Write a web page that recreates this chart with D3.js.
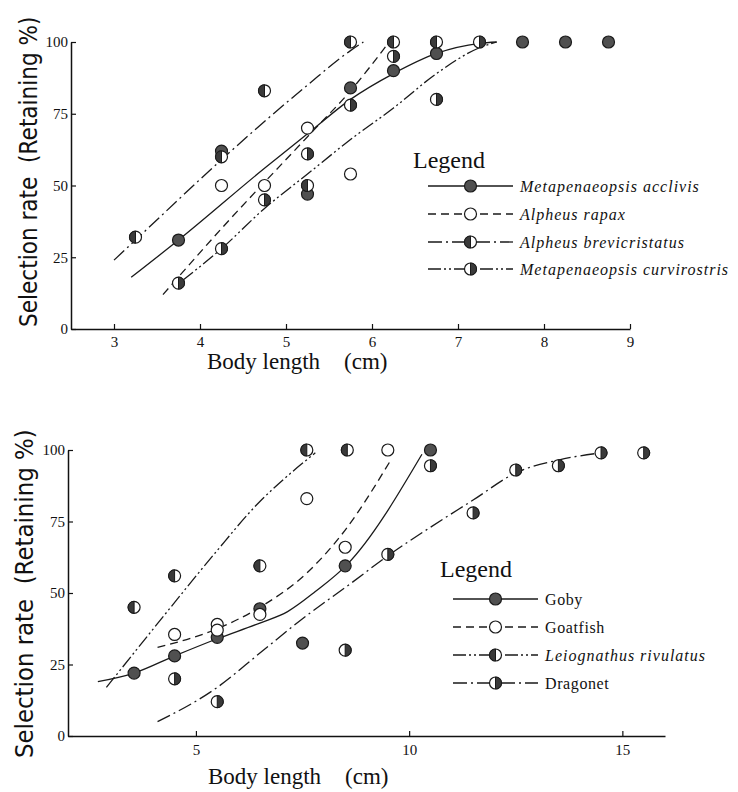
<!DOCTYPE html>
<html>
<head>
<meta charset="utf-8">
<script src="https://cdn.jsdelivr.net/npm/d3@7"></script>
<style>
  body { margin: 0; background: #fff; }
  .axis text { font-family: "Liberation Serif", serif; font-size: 15px; fill: #111; }
  .axis path, .axis line { stroke: #111; }
  .axis path { stroke-width: 1.5; }
  .axis line { stroke-width: 1.2; }
</style>
</head>
<body>
<div class="chart"></div>
<script>
// ---- top panel (shrimps) ----
var topTicksX = [3, 4, 5, 6, 7, 8, 9];
var ticksY = [0, 25, 50, 75, 100];
var topNames = ["Metapenaeopsis acclivis", "Alpheus rapax", "Alpheus brevicristatus", "Metapenaeopsis curvirostris"];

var acclivisX = [3.75, 4.25, 5.25, 5.75, 6.25, 6.75, 7.75, 8.25, 8.75];
var acclivisY = [31, 62, 47, 84, 90, 96, 100, 100, 100];
var rapaxX = [4.25, 4.75, 5.25, 5.75];
var rapaxY = [50, 50, 70, 54];
var brevX = [3.25, 4.25, 4.75, 5.25, 5.75, 6.25, 6.75];
var brevY = [32, 60, 83, 50, 100, 100, 100];
var curvX = [3.75, 4.25, 4.75, 5.25, 5.75, 6.25, 6.75, 7.25];
var curvY = [16, 28, 45, 61, 78, 95, 80, 100];

// fitted curves
var acclivisCurve = [[3.2, 18], [3.75, 31], [4.75, 56], [5.25, 68], [5.75, 80], [6.25, 89], [6.75, 96], [7.25, 99.5], [7.45, 100]];
var rapaxCurve = [[3.57, 12], [4.25, 35], [5.25, 67], [5.75, 83], [6.2, 100]];
var brevCurve = [[3.0, 24], [3.25, 31], [4.25, 59], [4.7, 71], [5.25, 85], [5.75, 97], [5.9, 100]];
var curvCurve = [[3.8, 17], [4.25, 28], [4.75, 42], [5.25, 54], [5.75, 66], [6.25, 77], [6.75, 89], [7.25, 98], [7.45, 100]];

// ---- bottom panel (fishes) ----
var botTicksX = [5, 10, 15];
var botNames = ["Goby", "Goatfish", "Leiognathus rivulatus", "Dragonet"];

var gobyX = [3.55, 4.5, 5.5, 6.5, 7.5, 8.5, 10.5];
var gobyY = [22, 28, 34.5, 44.5, 32.5, 59.5, 100];
var goatX = [4.5, 5.5, 5.5, 6.5, 7.6, 8.5, 9.5];
var goatY = [35.5, 39, 37, 42.5, 83, 66, 100];
var leioX = [3.55, 4.5, 6.5, 7.6, 8.55];
var leioY = [45, 56, 59.5, 100, 100];
var dragX = [4.5, 5.5, 8.5, 9.5, 10.5, 11.5, 12.5, 13.5, 14.5, 15.5];
var dragY = [20, 12, 30, 63.5, 94.5, 78, 93, 94.5, 99, 99];

var gobyCurve = [[2.7, 19], [3.55, 22], [4.5, 28], [5.5, 34], [6.5, 39.5], [7.15, 43.5], [7.8, 50.5], [8.55, 60], [10.3, 98.5]];
var goatCurve = [[4.1, 31], [5.5, 37.5], [6.5, 45], [7.6, 57], [8.5, 72], [9.55, 96]];
var leioCurve = [[2.9, 17], [4.3, 43], [5.45, 64], [6.5, 82], [7.0, 89], [7.8, 99]];
var dragCurve = [[4.1, 5], [5.5, 17], [6.5, 29], [7.5, 41], [8.6, 53], [9.5, 63], [10.5, 73], [11.5, 82.5], [12.5, 92], [13.5, 96.5], [14.5, 99]];

var DASH = { solid: null, dashed: "8,5", dashdot: "14,4,2,4", dashdotdot: "13,3,2,3,2,3" };
var ink = "#1a1a1a";

var svg = d3.select(".chart")
  .append("svg")
  .attr("width", 738)
  .attr("height", 792);

// draw one symbol: filled, open, left half dark, right half dark
function marker(g, kind, cx, cy) {
  var r = 6;
  g.append("circle")
    .attr("cx", cx).attr("cy", cy).attr("r", r)
    .attr("fill", kind == "filled" ? "#505050" : "#fff")
    .attr("stroke", ink).attr("stroke-width", 1.2);
  if (kind == "left" || kind == "right") {
    var sweep = kind == "left" ? 0 : 1;
    g.append("path")
      .attr("d", "M" + cx + "," + (cy - r) + " A" + r + "," + r + " 0 0 " + sweep + " " + cx + "," + (cy + r) + " Z")
      .attr("fill", "#3a3a3a").attr("stroke", ink).attr("stroke-width", 1);
  }
}

function drawPanel(p) {
  var x = d3.scaleLinear().domain(p.xDomain).range(p.xRange);
  var y = d3.scaleLinear().domain([0, 100]).range(p.yRange);
  var g = svg.append("g");

  g.append("g")
    .attr("class", "axis")
    .attr("transform", "translate(0," + p.yRange[0] + ")")
    .call(d3.axisBottom(x).tickValues(p.xTicks).tickSizeInner(-5).tickSizeOuter(0).tickPadding(p.xPad).tickFormat(d3.format("d")));

  g.append("g")
    .attr("class", "axis")
    .attr("transform", "translate(" + p.xRange[0] + ",0)")
    .call(d3.axisLeft(y).tickValues(ticksY).tickSizeInner(-5).tickSizeOuter(0).tickPadding(3));

  var line = d3.line()
    .x(function(d) { return x(d[0]); })
    .y(function(d) { return y(d[1]); })
    .curve(d3.curveMonotoneX);

  p.series.forEach(function(s) {
    g.append("path")
      .datum(s.curve)
      .attr("d", line)
      .attr("fill", "none")
      .attr("stroke", ink)
      .attr("stroke-width", 1.3)
      .attr("stroke-dasharray", DASH[s.dash]);
  });

  p.series.forEach(function(s) {
    d3.zip(s.xs, s.ys).forEach(function(d) {
      marker(g, s.mark, x(d[0]), y(d[1]));
    });
  });

  // y label (rotated, squeezed along its length)
  g.append("text")
    .attr("transform", "translate(" + p.yLab[0] + "," + p.yLab[1] + ") rotate(-90) scale(" + p.yLab[2] + ",1)")
    .style("font-family", "'DejaVu Sans', sans-serif")
    .style("font-size", "25px")
    .attr("fill", "#111")
    .text("Selection rate\u00a0\u00a0(Retaining %)");

  // x label, with the wide gap before the unit
  var xl = g.append("text")
    .attr("x", p.xLab[0])
    .attr("y", p.xLab[1])
    .style("font-family", "'Liberation Serif', serif")
    .style("font-size", "23px")
    .attr("fill", "#111")
    .text("Body length");
  xl.append("tspan")
    .attr("dx", 24)
    .text("(cm)");

  // legend
  var lg = g.append("g").attr("transform", "translate(" + p.legend[0] + "," + p.legend[1] + ")");
  lg.append("text")
    .attr("x", 0).attr("y", 0)
    .style("font-family", "'Liberation Serif', serif")
    .style("font-size", "24px")
    .attr("fill", "#111")
    .text("Legend");

  p.series.forEach(function(s, i) {
    var ry = p.legendRows[i] - p.legend[1];
    lg.append("line")
      .attr("x1", p.legendLine[0]).attr("x2", p.legendLine[1])
      .attr("y1", ry).attr("y2", ry)
      .attr("stroke", ink).attr("stroke-width", 1.3)
      .attr("stroke-dasharray", DASH[s.dash]);
    marker(lg, s.mark, (p.legendLine[0] + p.legendLine[1]) / 2, ry);
    lg.append("text")
      .attr("x", p.legendLine[1] + 7)
      .attr("y", ry)
      .attr("dy", "0.35em")
      .style("font-family", "'Liberation Serif', serif")
      .style("font-size", "16px")
      .style("font-style", s.italic ? "italic" : "normal")
      .style("letter-spacing", s.italic ? "1px" : "0.6px")
      .attr("fill", "#111")
      .text(s.name);
  });
}

drawPanel({
  xDomain: [2.5, 9], xRange: [71, 630], yRange: [329, 42],
  xTicks: topTicksX, xPad: 7,
  yLab: [37, 327, 0.865], xLab: [207, 369],
  legend: [413, 168], legendRows: [186, 214, 242, 269], legendLine: [15, 100],
  series: [
    { name: topNames[0], xs: acclivisX, ys: acclivisY, curve: acclivisCurve, dash: "solid", mark: "filled", italic: true },
    { name: topNames[1], xs: rapaxX, ys: rapaxY, curve: rapaxCurve, dash: "dashed", mark: "open", italic: true },
    { name: topNames[2], xs: brevX, ys: brevY, curve: brevCurve, dash: "dashdot", mark: "left", italic: true },
    { name: topNames[3], xs: curvX, ys: curvY, curve: curvCurve, dash: "dashdotdot", mark: "right", italic: true }
  ]
});

drawPanel({
  xDomain: [2, 16], xRange: [68, 665], yRange: [736, 450],
  xTicks: botTicksX, xPad: 8,
  yLab: [33, 758, 0.915], xLab: [208, 784],
  legend: [440, 577], legendRows: [599, 627, 655, 683], legendLine: [13, 98],
  series: [
    { name: botNames[0], xs: gobyX, ys: gobyY, curve: gobyCurve, dash: "solid", mark: "filled", italic: false },
    { name: botNames[1], xs: goatX, ys: goatY, curve: goatCurve, dash: "dashed", mark: "open", italic: false },
    { name: botNames[2], xs: leioX, ys: leioY, curve: leioCurve, dash: "dashdotdot", mark: "left", italic: true },
    { name: botNames[3], xs: dragX, ys: dragY, curve: dragCurve, dash: "dashdot", mark: "right", italic: false }
  ]
});
</script>
</body>
</html>
